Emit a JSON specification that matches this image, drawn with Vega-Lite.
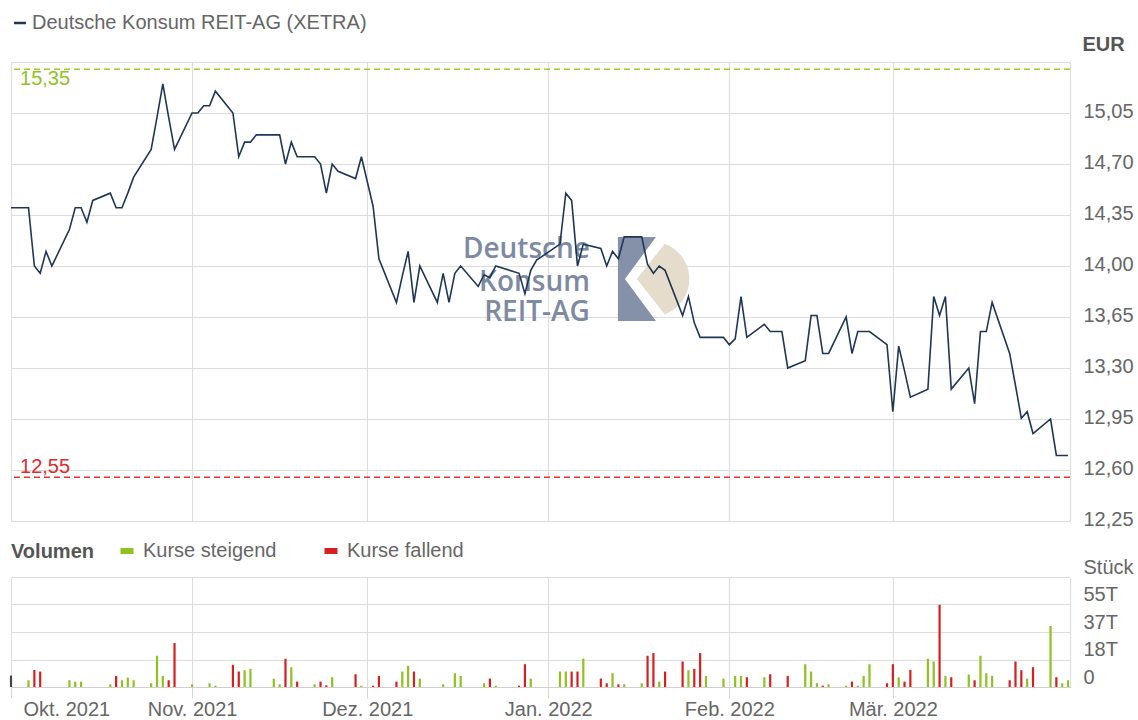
{
  "$schema": "https://vega.github.io/schema/vega-lite/v6.json",
  "padding": {"left": 7, "top": 12, "right": 0, "bottom": 0},
  "background": "white",
  "bounds": "flush",
  "spacing": 56,
  "config": {
    "font": "Liberation Sans",
    "view": {"stroke": "#dcdcdc"},
    "axis": {"labelFont": "Liberation Sans", "labelFontSize": 20, "labelColor": "#666666", "gridColor": "#dddddd", "tickColor": "#d6d6d6", "domainColor": "#cfcfcf", "titleFont": "Liberation Sans"},
    "legend": {"labelFont": "Liberation Sans", "titleFont": "Liberation Sans"},
    "text": {"font": "Liberation Sans"}
  },
  "resolve": {"scale": {"color": "independent", "stroke": "independent"}, "legend": {"color": "independent", "stroke": "independent"}},
  "datasets": {
    "kurs": [
      {"tag": "2021-10-01T00:00", "kurs": 14.40, "vol": 7600, "richtung": "unverändert"},
      {"tag": "2021-10-04T00:00", "kurs": 14.40, "vol": 4500, "richtung": "Kurse steigend"},
      {"tag": "2021-10-05T00:00", "kurs": 14.00, "vol": 11400, "richtung": "Kurse fallend"},
      {"tag": "2021-10-06T00:00", "kurs": 13.95, "vol": 10300, "richtung": "Kurse fallend"},
      {"tag": "2021-10-07T00:00", "kurs": 14.10, "vol": null, "richtung": null},
      {"tag": "2021-10-08T00:00", "kurs": 14.00, "vol": null, "richtung": null},
      {"tag": "2021-10-11T00:00", "kurs": 14.25, "vol": 4500, "richtung": "Kurse steigend"},
      {"tag": "2021-10-12T00:00", "kurs": 14.40, "vol": 3600, "richtung": "Kurse steigend"},
      {"tag": "2021-10-13T00:00", "kurs": 14.40, "vol": 3600, "richtung": "Kurse steigend"},
      {"tag": "2021-10-14T00:00", "kurs": 14.30, "vol": null, "richtung": null},
      {"tag": "2021-10-15T00:00", "kurs": 14.45, "vol": null, "richtung": null},
      {"tag": "2021-10-18T00:00", "kurs": 14.50, "vol": 1800, "richtung": "Kurse steigend"},
      {"tag": "2021-10-19T00:00", "kurs": 14.40, "vol": 7400, "richtung": "Kurse fallend"},
      {"tag": "2021-10-20T00:00", "kurs": 14.40, "vol": 4500, "richtung": "Kurse steigend"},
      {"tag": "2021-10-21T00:00", "kurs": 14.50, "vol": 6300, "richtung": "Kurse steigend"},
      {"tag": "2021-10-22T00:00", "kurs": 14.61, "vol": 4500, "richtung": "Kurse steigend"},
      {"tag": "2021-10-25T00:00", "kurs": 14.80, "vol": 2500, "richtung": "Kurse steigend"},
      {"tag": "2021-10-26T00:00", "kurs": 15.02, "vol": 20800, "richtung": "Kurse steigend"},
      {"tag": "2021-10-27T00:00", "kurs": 15.25, "vol": 7400, "richtung": "Kurse steigend"},
      {"tag": "2021-10-28T00:00", "kurs": 15.02, "vol": 4500, "richtung": "Kurse fallend"},
      {"tag": "2021-10-29T00:00", "kurs": 14.80, "vol": 29300, "richtung": "Kurse fallend"},
      {"tag": "2021-11-01T00:00", "kurs": 15.05, "vol": 1800, "richtung": "Kurse steigend"},
      {"tag": "2021-11-02T00:00", "kurs": 15.05, "vol": null, "richtung": null},
      {"tag": "2021-11-03T00:00", "kurs": 15.10, "vol": null, "richtung": null},
      {"tag": "2021-11-04T00:00", "kurs": 15.10, "vol": 2500, "richtung": "Kurse steigend"},
      {"tag": "2021-11-05T00:00", "kurs": 15.20, "vol": 900, "richtung": "Kurse steigend"},
      {"tag": "2021-11-08T00:00", "kurs": 15.05, "vol": 14800, "richtung": "Kurse fallend"},
      {"tag": "2021-11-09T00:00", "kurs": 14.75, "vol": 10300, "richtung": "Kurse fallend"},
      {"tag": "2021-11-10T00:00", "kurs": 14.85, "vol": 11200, "richtung": "Kurse steigend"},
      {"tag": "2021-11-11T00:00", "kurs": 14.85, "vol": 12100, "richtung": "Kurse steigend"},
      {"tag": "2021-11-12T00:00", "kurs": 14.90, "vol": null, "richtung": null},
      {"tag": "2021-11-15T00:00", "kurs": 14.90, "vol": 5600, "richtung": "Kurse steigend"},
      {"tag": "2021-11-16T00:00", "kurs": 14.90, "vol": 1800, "richtung": "Kurse steigend"},
      {"tag": "2021-11-17T00:00", "kurs": 14.70, "vol": 18800, "richtung": "Kurse fallend"},
      {"tag": "2021-11-18T00:00", "kurs": 14.85, "vol": 13200, "richtung": "Kurse steigend"},
      {"tag": "2021-11-19T00:00", "kurs": 14.75, "vol": 3600, "richtung": "Kurse fallend"},
      {"tag": "2021-11-22T00:00", "kurs": 14.75, "vol": 1800, "richtung": "Kurse steigend"},
      {"tag": "2021-11-23T00:00", "kurs": 14.70, "vol": 3600, "richtung": "Kurse fallend"},
      {"tag": "2021-11-24T00:00", "kurs": 14.50, "vol": 1100, "richtung": "Kurse fallend"},
      {"tag": "2021-11-25T00:00", "kurs": 14.70, "vol": 6500, "richtung": "Kurse steigend"},
      {"tag": "2021-11-26T00:00", "kurs": 14.65, "vol": null, "richtung": null},
      {"tag": "2021-11-29T00:00", "kurs": 14.60, "vol": 8500, "richtung": "Kurse fallend"},
      {"tag": "2021-11-30T00:00", "kurs": 14.75, "vol": 900, "richtung": "Kurse steigend"},
      {"tag": "2021-12-01T00:00", "kurs": 14.58, "vol": null, "richtung": null},
      {"tag": "2021-12-02T00:00", "kurs": 14.41, "vol": 900, "richtung": "Kurse fallend"},
      {"tag": "2021-12-03T00:00", "kurs": 14.05, "vol": 7400, "richtung": "Kurse fallend"},
      {"tag": "2021-12-06T00:00", "kurs": 13.75, "vol": 3600, "richtung": "Kurse fallend"},
      {"tag": "2021-12-07T00:00", "kurs": 13.93, "vol": 10300, "richtung": "Kurse steigend"},
      {"tag": "2021-12-08T00:00", "kurs": 14.10, "vol": 14100, "richtung": "Kurse steigend"},
      {"tag": "2021-12-09T00:00", "kurs": 13.75, "vol": 10300, "richtung": "Kurse fallend"},
      {"tag": "2021-12-10T00:00", "kurs": 14.00, "vol": 5600, "richtung": "Kurse steigend"},
      {"tag": "2021-12-13T00:00", "kurs": 13.75, "vol": null, "richtung": null},
      {"tag": "2021-12-14T00:00", "kurs": 13.95, "vol": 1800, "richtung": "Kurse steigend"},
      {"tag": "2021-12-15T00:00", "kurs": 13.75, "vol": null, "richtung": null},
      {"tag": "2021-12-16T00:00", "kurs": 13.95, "vol": 9200, "richtung": "Kurse steigend"},
      {"tag": "2021-12-17T00:00", "kurs": 14.00, "vol": 7400, "richtung": "Kurse steigend"},
      {"tag": "2021-12-20T00:00", "kurs": 13.86, "vol": null, "richtung": null},
      {"tag": "2021-12-21T00:00", "kurs": 13.94, "vol": 2500, "richtung": "Kurse steigend"},
      {"tag": "2021-12-22T00:00", "kurs": 13.92, "vol": 5600, "richtung": "Kurse fallend"},
      {"tag": "2021-12-23T00:00", "kurs": 14.00, "vol": 900, "richtung": "Kurse steigend"},
      {"tag": "2021-12-27T00:00", "kurs": 13.95, "vol": 900, "richtung": "Kurse fallend"},
      {"tag": "2021-12-28T00:00", "kurs": 13.81, "vol": 15200, "richtung": "Kurse fallend"},
      {"tag": "2021-12-29T00:00", "kurs": 13.97, "vol": 5600, "richtung": "Kurse steigend"},
      {"tag": "2021-12-30T00:00", "kurs": 14.04, "vol": null, "richtung": null},
      {"tag": "2022-01-03T00:00", "kurs": 14.15, "vol": 10300, "richtung": "Kurse steigend"},
      {"tag": "2022-01-04T00:00", "kurs": 14.50, "vol": 10300, "richtung": "Kurse steigend"},
      {"tag": "2022-01-05T00:00", "kurs": 14.45, "vol": 10300, "richtung": "Kurse fallend"},
      {"tag": "2022-01-06T00:00", "kurs": 14.00, "vol": 10300, "richtung": "Kurse fallend"},
      {"tag": "2022-01-07T00:00", "kurs": 14.15, "vol": 19000, "richtung": "Kurse steigend"},
      {"tag": "2022-01-10T00:00", "kurs": 14.12, "vol": 5600, "richtung": "Kurse fallend"},
      {"tag": "2022-01-11T00:00", "kurs": 14.00, "vol": 2500, "richtung": "Kurse fallend"},
      {"tag": "2022-01-12T00:00", "kurs": 14.10, "vol": 9200, "richtung": "Kurse steigend"},
      {"tag": "2022-01-13T00:00", "kurs": 14.05, "vol": 1800, "richtung": "Kurse fallend"},
      {"tag": "2022-01-14T00:00", "kurs": 14.20, "vol": 1800, "richtung": "Kurse steigend"},
      {"tag": "2022-01-17T00:00", "kurs": 14.20, "vol": 2500, "richtung": "Kurse steigend"},
      {"tag": "2022-01-18T00:00", "kurs": 14.01, "vol": 20800, "richtung": "Kurse fallend"},
      {"tag": "2022-01-19T00:00", "kurs": 13.95, "vol": 22600, "richtung": "Kurse fallend"},
      {"tag": "2022-01-20T00:00", "kurs": 14.00, "vol": 3600, "richtung": "Kurse steigend"},
      {"tag": "2022-01-21T00:00", "kurs": 13.97, "vol": 10300, "richtung": "Kurse fallend"},
      {"tag": "2022-01-24T00:00", "kurs": 13.66, "vol": 17000, "richtung": "Kurse fallend"},
      {"tag": "2022-01-25T00:00", "kurs": 13.79, "vol": 11200, "richtung": "Kurse steigend"},
      {"tag": "2022-01-26T00:00", "kurs": 13.61, "vol": 12100, "richtung": "Kurse fallend"},
      {"tag": "2022-01-27T00:00", "kurs": 13.51, "vol": 22600, "richtung": "Kurse fallend"},
      {"tag": "2022-01-28T00:00", "kurs": 13.51, "vol": 7400, "richtung": "Kurse steigend"},
      {"tag": "2022-01-31T00:00", "kurs": 13.51, "vol": 5600, "richtung": "Kurse steigend"},
      {"tag": "2022-02-01T00:00", "kurs": 13.46, "vol": null, "richtung": null},
      {"tag": "2022-02-02T00:00", "kurs": 13.50, "vol": 7400, "richtung": "Kurse steigend"},
      {"tag": "2022-02-03T00:00", "kurs": 13.79, "vol": 7400, "richtung": "Kurse steigend"},
      {"tag": "2022-02-04T00:00", "kurs": 13.51, "vol": 6500, "richtung": "Kurse fallend"},
      {"tag": "2022-02-07T00:00", "kurs": 13.60, "vol": 6500, "richtung": "Kurse steigend"},
      {"tag": "2022-02-08T00:00", "kurs": 13.55, "vol": 8500, "richtung": "Kurse fallend"},
      {"tag": "2022-02-09T00:00", "kurs": 13.55, "vol": null, "richtung": null},
      {"tag": "2022-02-10T00:00", "kurs": 13.55, "vol": null, "richtung": null},
      {"tag": "2022-02-11T00:00", "kurs": 13.30, "vol": 7400, "richtung": "Kurse fallend"},
      {"tag": "2022-02-14T00:00", "kurs": 13.35, "vol": 15200, "richtung": "Kurse steigend"},
      {"tag": "2022-02-15T00:00", "kurs": 13.66, "vol": 10300, "richtung": "Kurse steigend"},
      {"tag": "2022-02-16T00:00", "kurs": 13.66, "vol": 2500, "richtung": "Kurse steigend"},
      {"tag": "2022-02-17T00:00", "kurs": 13.40, "vol": 900, "richtung": "Kurse fallend"},
      {"tag": "2022-02-18T00:00", "kurs": 13.40, "vol": 1800, "richtung": "Kurse steigend"},
      {"tag": "2022-02-21T00:00", "kurs": 13.65, "vol": 900, "richtung": "Kurse steigend"},
      {"tag": "2022-02-22T00:00", "kurs": 13.40, "vol": 3600, "richtung": "Kurse fallend"},
      {"tag": "2022-02-23T00:00", "kurs": 13.55, "vol": 900, "richtung": "Kurse steigend"},
      {"tag": "2022-02-24T00:00", "kurs": 13.55, "vol": 7400, "richtung": "Kurse steigend"},
      {"tag": "2022-02-25T00:00", "kurs": 13.55, "vol": 15200, "richtung": "Kurse steigend"},
      {"tag": "2022-02-28T00:00", "kurs": 13.46, "vol": 2500, "richtung": "Kurse fallend"},
      {"tag": "2022-03-01T00:00", "kurs": 13.00, "vol": 15200, "richtung": "Kurse fallend"},
      {"tag": "2022-03-02T00:00", "kurs": 13.45, "vol": 6500, "richtung": "Kurse steigend"},
      {"tag": "2022-03-03T00:00", "kurs": 13.28, "vol": 3600, "richtung": "Kurse fallend"},
      {"tag": "2022-03-04T00:00", "kurs": 13.10, "vol": 11400, "richtung": "Kurse fallend"},
      {"tag": "2022-03-07T00:00", "kurs": 13.155, "vol": 18800, "richtung": "Kurse steigend"},
      {"tag": "2022-03-08T00:00", "kurs": 13.79, "vol": 17000, "richtung": "Kurse steigend"},
      {"tag": "2022-03-09T00:00", "kurs": 13.66, "vol": 54800, "richtung": "Kurse fallend"},
      {"tag": "2022-03-10T00:00", "kurs": 13.79, "vol": 7400, "richtung": "Kurse steigend"},
      {"tag": "2022-03-11T00:00", "kurs": 13.155, "vol": 6500, "richtung": "Kurse fallend"},
      {"tag": "2022-03-14T00:00", "kurs": 13.30, "vol": 8300, "richtung": "Kurse steigend"},
      {"tag": "2022-03-15T00:00", "kurs": 13.055, "vol": 4500, "richtung": "Kurse fallend"},
      {"tag": "2022-03-16T00:00", "kurs": 13.55, "vol": 20800, "richtung": "Kurse steigend"},
      {"tag": "2022-03-17T00:00", "kurs": 13.55, "vol": 9200, "richtung": "Kurse steigend"},
      {"tag": "2022-03-18T00:00", "kurs": 13.75, "vol": 7400, "richtung": "Kurse steigend"},
      {"tag": "2022-03-21T00:00", "kurs": 13.40, "vol": 4500, "richtung": "Kurse fallend"},
      {"tag": "2022-03-22T00:00", "kurs": 13.18, "vol": 17000, "richtung": "Kurse fallend"},
      {"tag": "2022-03-23T00:00", "kurs": 12.955, "vol": 11200, "richtung": "Kurse fallend"},
      {"tag": "2022-03-24T00:00", "kurs": 13.00, "vol": 5600, "richtung": "Kurse steigend"},
      {"tag": "2022-03-25T00:00", "kurs": 12.85, "vol": 13200, "richtung": "Kurse fallend"},
      {"tag": "2022-03-28T00:00", "kurs": 12.95, "vol": 40700, "richtung": "Kurse steigend"},
      {"tag": "2022-03-29T00:00", "kurs": 12.70, "vol": 6500, "richtung": "Kurse fallend"},
      {"tag": "2022-03-30T00:00", "kurs": 12.70, "vol": 2500, "richtung": "Kurse steigend"},
      {"tag": "2022-03-31T00:00", "kurs": 12.70, "vol": 4500, "richtung": "Kurse steigend"}
    ]
  },
  "vconcat": [
    {
      "width": 1059,
      "height": 459,
      "layer": [
        {
          "data": {"values": [{}]},
          "mark": {"type": "text", "text": "Deutsche", "align": "right", "baseline": "alphabetic", "font": "Open Sans", "fontSize": 28, "fontWeight": 600, "color": "#7d8aa2"},
          "encoding": {"x": {"datum": {"year": 2022, "month": 1, "date": 8, "hours": 3}, "type": "temporal"}, "y": {"datum": 14.055, "type": "quantitative"}}
        },
        {
          "data": {"values": [{}]},
          "mark": {"type": "text", "text": "Konsum", "align": "right", "baseline": "alphabetic", "font": "Open Sans", "fontSize": 28, "fontWeight": 600, "color": "#7d8aa2"},
          "encoding": {"x": {"datum": {"year": 2022, "month": 1, "date": 8, "hours": 3}, "type": "temporal"}, "y": {"datum": 13.828, "type": "quantitative"}}
        },
        {
          "data": {"values": [{}]},
          "mark": {"type": "text", "text": "REIT-AG", "align": "right", "baseline": "alphabetic", "font": "Open Sans", "fontSize": 28, "fontWeight": 600, "color": "#7d8aa2"},
          "encoding": {"x": {"datum": {"year": 2022, "month": 1, "date": 8, "hours": 3}, "type": "temporal"}, "y": {"datum": 13.623, "type": "quantitative"}}
        },
        {
          "data": {"values": [{}]},
          "mark": {"type": "point", "shape": "M-35,-42L3,-42L-28,0L3,42L-35,42Z", "size": 4, "filled": true, "color": "#8591a9", "opacity": 1, "strokeWidth": 0},
          "encoding": {"x": {"datum": {"year": 2022, "month": 1, "date": 18, "hours": 22}, "type": "temporal"}, "y": {"datum": 13.911, "type": "quantitative"}}
        },
        {
          "data": {"values": [{}]},
          "mark": {"type": "point", "shape": "M11.8,-35.2A37.5,37.5,0,0,1,11.8,35.2L-16,0Z", "size": 4, "filled": true, "color": "#e5dccb", "opacity": 1, "strokeWidth": 0},
          "encoding": {"x": {"datum": {"year": 2022, "month": 1, "date": 18, "hours": 22}, "type": "temporal"}, "y": {"datum": 13.911, "type": "quantitative"}}
        },
        {
          "data": {"values": [{}]},
          "mark": {"type": "rule", "stroke": "#9ccb2c", "strokeDash": [6, 4], "strokeWidth": 1.5},
          "encoding": {"y": {"datum": 15.35, "type": "quantitative"}}
        },
        {
          "data": {"values": [{}]},
          "mark": {"type": "rule", "stroke": "#e8322f", "strokeDash": [6, 4], "strokeWidth": 1.5},
          "encoding": {"y": {"datum": 12.55, "type": "quantitative"}}
        },
        {
          "data": {"values": [{}]},
          "mark": {"type": "text", "text": "15,35", "align": "left", "baseline": "top", "fontSize": 20, "color": "#8fc31f"},
          "encoding": {"x": {"datum": {"year": 2021, "month": 10, "date": 2, "hours": 13}, "type": "temporal"}, "y": {"datum": 15.35, "type": "quantitative"}}
        },
        {
          "data": {"values": [{}]},
          "mark": {"type": "text", "text": "12,55", "align": "left", "baseline": "bottom", "fontSize": 20, "color": "#dd2b2b"},
          "encoding": {"x": {"datum": {"year": 2021, "month": 10, "date": 2, "hours": 13}, "type": "temporal"}, "y": {"datum": 12.55, "type": "quantitative"}}
        },
        {
          "data": {"name": "kurs"},
          "mark": {"type": "line", "strokeWidth": 1.6},
          "encoding": {
            "x": {
              "field": "tag", "type": "temporal",
              "scale": {"domain": [{"year": 2021, "month": 10, "date": 1}, {"year": 2022, "month": 3, "date": 31, "hours": 8}]},
              "axis": {"title": null, "labels": false, "ticks": false, "domain": false, "grid": true,
                "values": [{"year": 2021, "month": 10, "date": 1}, {"year": 2021, "month": 11, "date": 1}, {"year": 2021, "month": 12, "date": 1}, {"year": 2022, "month": 1, "date": 1}, {"year": 2022, "month": 2, "date": 1}, {"year": 2022, "month": 3, "date": 1}]}
            },
            "y": {
              "field": "kurs", "type": "quantitative",
              "scale": {"domain": [12.25, 15.4], "nice": false, "zero": false},
              "axis": {"orient": "right", "values": [12.25, 12.6, 12.95, 13.3, 13.65, 14.0, 14.35, 14.7, 15.05, 15.4],
                "labelExpr": "datum.value > 15.3 ? '' : replace(format(datum.value, '.2f'), '.', ',')",
                "title": "EUR", "titleAngle": 0, "titleAlign": "left", "titleBaseline": "middle", "titleX": 12, "titleY": -18,
                "titleFontSize": 20, "titleFontWeight": "bold", "titleColor": "#555555",
                "labelAlign": "left", "labelPadding": 13, "labelBaseline": "middle", "labelOffset": -2,
                "ticks": false, "domain": false, "grid": true}
            },
            "stroke": {
              "datum": "Deutsche Konsum REIT-AG (XETRA)",
              "scale": {"range": ["#1f3655"]},
              "legend": {"orient": "none", "legendX": -1, "legendY": -49, "title": null, "symbolType": "stroke", "symbolSize": 144, "symbolStrokeWidth": 2.5, "labelFontSize": 20, "labelColor": "#666666", "labelOffset": 2, "padding": 0, "labelLimit": 0}
            }
          }
        }
      ]
    },
    {
      "width": 1059,
      "height": 110,
      "data": {"name": "kurs"},
      "transform": [{"filter": "datum.vol > 0"}],
      "mark": {"type": "rule", "strokeWidth": 2.2},
      "encoding": {
        "x": {
          "field": "tag", "type": "temporal",
          "scale": {"domain": [{"year": 2021, "month": 10, "date": 1}, {"year": 2022, "month": 3, "date": 31, "hours": 8}]},
          "axis": {"title": null, "grid": true, "domain": true, "tickSize": 11, "labelPadding": 1,
            "labelFlush": true, "labelFlushOffset": -12,
            "values": [{"year": 2021, "month": 10, "date": 1}, {"year": 2021, "month": 11, "date": 1}, {"year": 2021, "month": 12, "date": 1}, {"year": 2022, "month": 1, "date": 1}, {"year": 2022, "month": 2, "date": 1}, {"year": 2022, "month": 3, "date": 1}],
            "labelExpr": "['Jan.','Feb.','Mär.','Apr.','Mai','Jun.','Jul.','Aug.','Sep.','Okt.','Nov.','Dez.'][month(datum.value)] + ' ' + year(datum.value)"}
        },
        "y": {
          "field": "vol", "type": "quantitative",
          "scale": {"domain": [0, 73333.33], "nice": false},
          "axis": {"orient": "right", "values": [0, 18333.33, 36666.67, 55000, 73333.33],
            "labelExpr": "datum.value > 70000 ? 'Stück' : datum.value == 0 ? '0' : round(datum.value / 1000) + 'T'",
            "title": null, "labelAlign": "left", "labelPadding": 13, "labelBaseline": "bottom",
            "ticks": false, "domain": false, "grid": true}
        },
        "y2": {"datum": 0},
        "color": {
          "field": "richtung", "type": "nominal",
          "scale": {"domain": ["Kurse steigend", "Kurse fallend", "unverändert"], "range": ["#8dc21f", "#d81e1e", "#444444"]},
          "legend": {"values": ["Kurse steigend", "Kurse fallend"], "title": "Volumen", "orient": "none", "legendX": 0, "legendY": -36,
            "direction": "horizontal", "titleOrient": "left", "titleFontSize": 20, "titleFontWeight": "bold", "titleColor": "#555555", "titlePadding": 23,
            "symbolType": "stroke", "symbolSize": 169, "symbolStrokeWidth": 6, "labelOffset": 6, "columnPadding": 35,
            "labelFontSize": 20, "labelColor": "#666666", "padding": 0, "labelLimit": 0}
        }
      }
    }
  ]
}
